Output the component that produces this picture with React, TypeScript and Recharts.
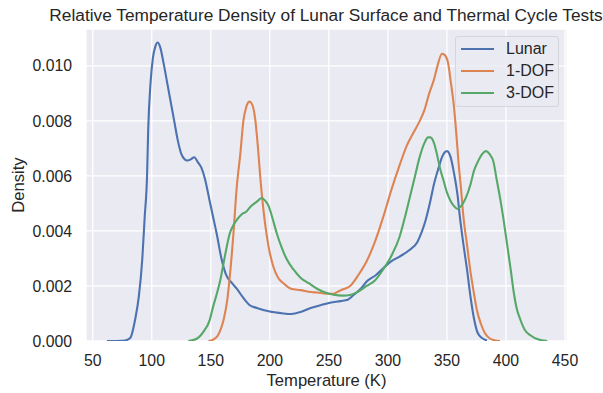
import React from 'react'
import { LineChart, Line, XAxis, YAxis, CartesianGrid, Label } from 'recharts'

document.body.style.margin = '0'

const FONT = '"Liberation Sans", Arial, sans-serif'
const TEXT = '#262626'

// Lunar surface temperature density
const lunarTemp = [
  62, 75, 80, 82, 86, 89, 92, 94, 96, 97, 99, 101, 103, 105, 107, 110, 113, 116, 119, 122, 125, 128, 130,
  133, 136, 139, 142, 145, 149, 152, 155, 159, 163, 168, 172, 177, 183, 189, 200, 210, 218, 226, 234, 243,
  251, 260, 266, 271, 277, 282, 290, 296, 303, 310, 318, 325, 329, 332, 336, 339, 343, 346, 350, 353, 356,
  359, 361, 364, 367, 370, 373, 376, 380, 384,
]
const lunarDensity = [
  0, 0.00001, 0.00006, 0.00012, 0.0008, 0.0016, 0.003, 0.0045, 0.006, 0.0077, 0.0094, 0.0103, 0.0107,
  0.01085, 0.0107, 0.0101, 0.0094, 0.0087, 0.008, 0.0073, 0.0068, 0.0066, 0.00656, 0.0066, 0.00668, 0.0065,
  0.0063, 0.0059, 0.0051, 0.0045, 0.0039, 0.003, 0.0024, 0.0021, 0.0019, 0.0016, 0.0013, 0.0012, 0.00107,
  0.00101, 0.00098, 0.00105, 0.00119, 0.0013, 0.00139, 0.00145, 0.0015, 0.00167, 0.0019, 0.00216, 0.0024,
  0.00264, 0.0029, 0.00307, 0.0033, 0.0036, 0.004, 0.0044, 0.0051, 0.0057, 0.0063, 0.0067, 0.0069, 0.0067,
  0.0061, 0.0053, 0.0045, 0.0035, 0.0026, 0.0016, 0.0008, 0.0003, 0.0001, 0.00002,
]

// 1-DOF thermal cycle test
const oneDofTemp = [
  148, 152, 156, 159, 161, 164, 166, 169, 172, 175, 177.6, 180, 182.7, 185, 187.5, 190, 192, 194, 197.5,
  200, 203, 207, 211.5, 218, 226, 235, 240, 248, 254, 258, 262, 268, 275, 282, 289, 296, 303, 310, 316,
  322, 327, 331, 335, 339, 342, 345.8, 348, 351, 353, 356, 358, 360, 362, 364, 367, 370, 373, 375.5, 379,
  382, 386, 391, 395,
]
const oneDofDensity = [
  0, 0.00005, 0.0002, 0.0005, 0.0008, 0.0015, 0.0023, 0.0038, 0.0056, 0.0068, 0.008, 0.0085, 0.0087,
  0.0086, 0.0081, 0.007, 0.0059, 0.005, 0.0038, 0.0032, 0.0027, 0.0023, 0.0021, 0.0019, 0.00185, 0.00178,
  0.00176, 0.00172, 0.00172, 0.0018, 0.00188, 0.002, 0.0024, 0.0029, 0.0036, 0.0045, 0.0055, 0.0064,
  0.0071, 0.0076, 0.008, 0.0084, 0.009, 0.0095, 0.01, 0.01044, 0.0104, 0.0101, 0.0095, 0.0085, 0.0075,
  0.0064, 0.0055, 0.0045, 0.0035, 0.0025, 0.0017, 0.0011, 0.0006, 0.0003, 0.0001, 0.00002, 0,
]

// 3-DOF thermal cycle test
const threeDofTemp = [
  131, 138, 144, 149, 152, 155, 158, 162, 166, 169, 172, 176, 180, 184, 187, 190, 193, 196, 199, 202, 206,
  210, 214, 220, 226, 233, 240, 247, 254, 262, 268, 275, 282, 289, 296, 303, 310, 315, 319, 323, 327, 331,
  334, 336, 339, 341.5, 344, 347, 350, 353, 356, 359, 362, 366, 370, 373, 376, 380, 383, 386, 389.5, 392,
  395, 398, 401, 404, 406.5, 409, 412, 416, 421, 427, 435,
]
const threeDofDensity = [
  0, 0.00008, 0.00035, 0.00075, 0.00125, 0.0017, 0.0022, 0.0031, 0.0039, 0.0042, 0.0044, 0.0046, 0.0047,
  0.0049, 0.005, 0.0051, 0.0052, 0.0051, 0.0049, 0.0045, 0.0039, 0.0034, 0.003, 0.0026, 0.0023, 0.0021,
  0.0019, 0.00176, 0.00168, 0.00165, 0.00167, 0.0018, 0.002, 0.0022, 0.0026, 0.0031, 0.0038, 0.0046,
  0.0053, 0.006, 0.0067, 0.0072, 0.0074, 0.0074, 0.0072, 0.0068, 0.0063, 0.00585, 0.0054, 0.0051, 0.0049,
  0.0048, 0.0049, 0.0052, 0.0057, 0.0062, 0.0065, 0.0068, 0.0069, 0.0068, 0.0065, 0.0059, 0.0052, 0.0044,
  0.0035, 0.0026, 0.0018, 0.0012, 0.0008, 0.0004, 0.0002, 0.00006, 0,
]

const xTicks = [50, 100, 150, 200, 250, 300, 350, 400, 450]
const yTicks = [0, 0.002, 0.004, 0.006, 0.008, 0.01]

const toRows = (temps: number[], vals: number[]) => temps.map((t, i) => ({ t, d: vals[i] }))

const series = [
  { name: 'Lunar', color: '#4c72b0', data: toRows(lunarTemp, lunarDensity) },
  { name: '1-DOF', color: '#dd8452', data: toRows(oneDofTemp, oneDofDensity) },
  { name: '3-DOF', color: '#55a868', data: toRows(threeDofTemp, threeDofDensity) },
]

const tickStyle = { fontSize: 15.8, fill: TEXT, fontFamily: FONT }
const labelStyle = { fontSize: 16.6, fill: TEXT, fontFamily: FONT }

export default function App() {
  return (
    <div style={{ position: 'relative', width: 603, height: 393, background: '#fff', fontFamily: FONT }}>
      {/* title centred over the plot area */}
      <div
        style={{
          position: 'absolute',
          top: 5,
          left: 0,
          width: 652,
          textAlign: 'center',
          fontSize: 17.3,
          color: TEXT,
          whiteSpace: 'nowrap',
        }}
      >
        Relative Temperature Density of Lunar Surface and Thermal Cycle Tests
      </div>
      <LineChart width={603} height={393} margin={{ top: 29, right: 36, bottom: 0, left: 0 }}>
        <CartesianGrid fill="#eaeaf2" stroke="#ffffff" strokeWidth={1.3} />
        <XAxis
          type="number"
          dataKey="t"
          domain={[44.3, 451.7]}
          ticks={xTicks}
          allowDuplicatedCategory={false}
          axisLine={false}
          tickLine={false}
          tickSize={0}
          tickMargin={14}
          height={52}
          tick={tickStyle}
        >
          <Label value="Temperature (K)" position="insideBottom" offset={7} style={labelStyle} />
        </XAxis>
        <YAxis
          type="number"
          dataKey="d"
          domain={[0, 0.01134]}
          ticks={yTicks}
          allowDataOverflow
          axisLine={false}
          tickLine={false}
          tickSize={0}
          tickMargin={14}
          width={86}
          tick={tickStyle}
          tickFormatter={(v: number) => v.toFixed(3)}
        >
          <Label
            value="Density"
            angle={-90}
            position="insideLeft"
            offset={18}
            style={{ ...labelStyle, textAnchor: 'middle' }}
          />
        </YAxis>
        {series.map((s) => (
          <Line
            key={s.name}
            data={s.data}
            dataKey="d"
            name={s.name}
            type="monotone"
            stroke={s.color}
            strokeWidth={2.1}
            dot={false}
            activeDot={false}
            isAnimationActive={false}
          />
        ))}
      </LineChart>
      <div
        style={{
          position: 'absolute',
          left: 455,
          top: 36,
          width: 104,
          height: 71,
          boxSizing: 'border-box',
          background: 'rgba(234,234,242,0.85)',
          border: '1px solid #d5d5dc',
          borderRadius: 3,
          padding: '1px 0 0 5px',
        }}
      >
        {series.map((s) => (
          <div key={s.name} style={{ display: 'flex', alignItems: 'center', height: 22 }}>
            <div style={{ width: 33, height: 2, background: s.color }} />
            <span style={{ marginLeft: 12, fontSize: 16, color: TEXT }}>{s.name}</span>
          </div>
        ))}
      </div>
    </div>
  )
}
